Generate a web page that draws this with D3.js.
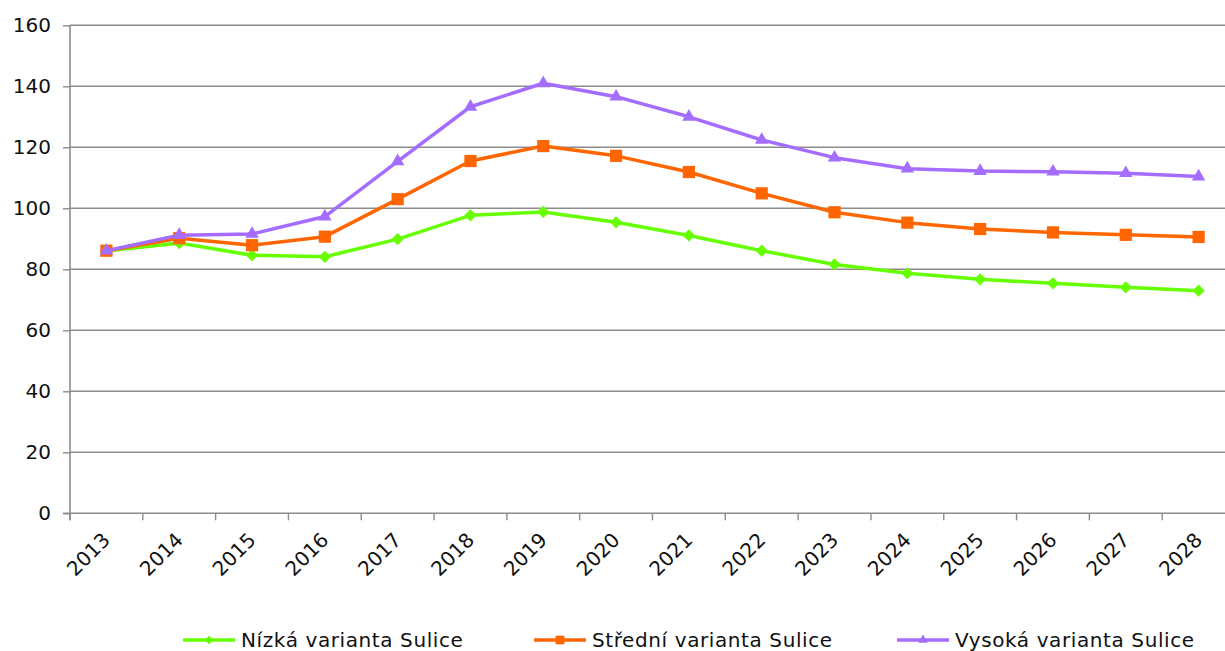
<!DOCTYPE html>
<html>
<head>
<meta charset="utf-8">
<script src="https://cdn.jsdelivr.net/npm/d3@7"></script>
<style>
  body { margin: 0; background: #fff; }
  svg { display: block; font-family: "DejaVu Sans", Verdana, sans-serif; }
</style>
</head>
<body>
<div id="chart"></div>
<script>
// years on the x axis
var years = ["2013", "2014", "2015", "2016", "2017", "2018", "2019", "2020",
             "2021", "2022", "2023", "2024", "2025", "2026", "2027", "2028"];

// values
var nizka = [86.0, 88.6, 84.6, 84.1, 89.9, 97.7, 98.8, 95.4,
             91.1, 86.1, 81.6, 78.7, 76.7, 75.4, 74.1, 73.0];
var stredni = [86.1, 90.2, 87.9, 90.7, 103.0, 115.5, 120.4, 117.2,
               111.9, 104.9, 98.7, 95.3, 93.2, 92.1, 91.3, 90.6];
var vysoka = [86.1, 91.2, 91.6, 97.3, 115.4, 133.3, 141.0, 136.6,
              130.0, 122.4, 116.6, 113.0, 112.2, 112.0, 111.5, 110.4];

var seriesNames = ["Nízká varianta Sulice", "Střední varianta Sulice", "Vysoká varianta Sulice"];
var yTicks = [0, 20, 40, 60, 80, 100, 120, 140, 160];

var width = 1225,
    height = 651;

var plotLeft = 70, plotRight = 1235, plotTop = 25.3, plotBottom = 513.3;

var series = [
    { name: seriesNames[0], values: nizka, color: "#66ff00", symbol: d3.symbolDiamond2, size: 95 },
    { name: seriesNames[1], values: stredni, color: "#ff6600", symbol: d3.symbolSquare2, size: 190 },
    { name: seriesNames[2], values: vysoka, color: "#a56dff", symbol: d3.symbolTriangle2, size: 130 }
];

var svg = d3.select("#chart")
    .append("svg")
    .attr("width", width)
    .attr("height", height);

var xScale = d3.scaleBand()
    .domain(years)
    .range([plotLeft, plotRight]);

var yScale = d3.scaleLinear()
    .domain([0, 160])
    .range([plotBottom, plotTop]);

// horizontal grid lines
svg.append("g")
    .selectAll("line")
    .data(yTicks.filter(function(d) { return d > 0; }))
    .enter()
    .append("line")
    .attr("x1", plotLeft)
    .attr("x2", width)
    .attr("y1", function(d) { return yScale(d); })
    .attr("y2", function(d) { return yScale(d); })
    .attr("stroke", "#8c8c8c")
    .attr("stroke-width", 1.4);

// y axis
var yAxis = d3.axisLeft(yScale)
    .tickValues(yTicks)
    .tickSize(7)
    .tickPadding(12);

var yG = svg.append("g")
    .attr("transform", "translate(" + plotLeft + ",0)")
    .call(yAxis);
yG.select(".domain").remove();
yG.selectAll(".tick line").attr("stroke", "#8c8c8c").attr("stroke-width", 1.4);
yG.selectAll(".tick text")
    .attr("fill", "#111")
    .style("font-size", "20px")
    .style("font-family", "DejaVu Sans, Verdana, sans-serif");

svg.append("line")
    .attr("x1", plotLeft).attr("x2", plotLeft)
    .attr("y1", plotTop).attr("y2", plotBottom + 7)
    .attr("stroke", "#8c8c8c")
    .attr("stroke-width", 1.6);

// x axis
svg.append("line")
    .attr("x1", plotLeft - 7).attr("x2", width)
    .attr("y1", plotBottom).attr("y2", plotBottom)
    .attr("stroke", "#8c8c8c")
    .attr("stroke-width", 1.4);

svg.append("g")
    .selectAll("line")
    .data(years)
    .enter()
    .append("line")
    .attr("x1", function(d) { return xScale(d); })
    .attr("x2", function(d) { return xScale(d); })
    .attr("y1", plotBottom)
    .attr("y2", plotBottom + 7)
    .attr("stroke", "#8c8c8c")
    .attr("stroke-width", 1.4);

svg.append("g")
    .selectAll("text")
    .data(years)
    .enter()
    .append("text")
    .attr("transform", function(d) {
        return "translate(" + (xScale(d) + xScale.bandwidth() / 2) + "," + (plotBottom + 23) + ") rotate(-45)";
    })
    .attr("text-anchor", "end")
    .attr("dy", "0.35em")
    .attr("fill", "#111")
    .style("font-size", "20px")
    .text(function(d) { return d; });

// lines and markers
var line = d3.line()
    .x(function(d, i) { return xScale(years[i]) + xScale.bandwidth() / 2; })
    .y(function(d) { return yScale(d); });

series.forEach(function(s) {
    svg.append("path")
        .datum(s.values)
        .attr("d", line)
        .attr("fill", "none")
        .attr("stroke", s.color)
        .attr("stroke-width", 3.5)
        .attr("stroke-linejoin", "round");

    svg.append("g")
        .selectAll("path")
        .data(s.values)
        .enter()
        .append("path")
        .attr("d", d3.symbol().type(s.symbol).size(s.size))
        .attr("transform", function(d, i) {
            return "translate(" + (xScale(years[i]) + xScale.bandwidth() / 2) + "," + yScale(d) + ")";
        })
        .attr("fill", s.color);
});

// legend
var legendX = [183, 534, 897];
var legendY = 640;

series.forEach(function(s, i) {
    var g = svg.append("g")
        .attr("transform", "translate(" + legendX[i] + "," + legendY + ")");
    g.append("line")
        .attr("x1", 0).attr("x2", 52)
        .attr("y1", 0).attr("y2", 0)
        .attr("stroke", s.color)
        .attr("stroke-width", 3.5);
    g.append("path")
        .attr("d", d3.symbol().type(s.symbol).size(s.size * 0.5))
        .attr("transform", "translate(26,0)")
        .attr("fill", s.color);
    g.append("text")
        .attr("x", 58)
        .attr("dy", "0.35em")
        .attr("fill", "#111")
        .style("font-size", "20px")
        .style("letter-spacing", "0.6px")
        .text(s.name);
});
</script>
</body>
</html>
